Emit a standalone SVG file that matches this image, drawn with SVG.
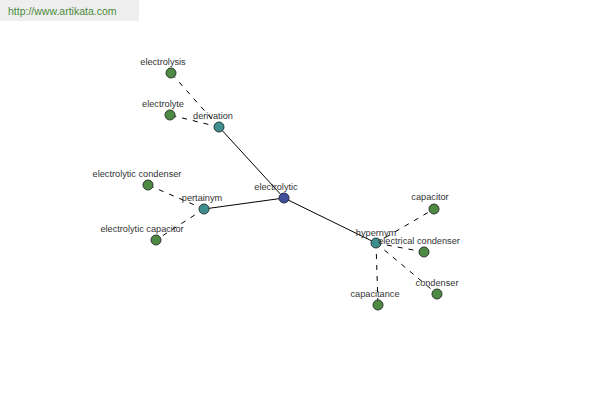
<svg xmlns="http://www.w3.org/2000/svg" width="600" height="400" viewBox="0 0 600 400">
<style>
text{font-family:"Liberation Sans",Arial,sans-serif;font-size:9.2px;fill:#333;text-anchor:middle}
.leaf{fill:#4f8a45;stroke:#2a3a2a;stroke-width:1}
.rel{fill:#3f8f8f;stroke:#2a3a3a;stroke-width:1}
.root{fill:#3f4f9a;stroke:#222a44;stroke-width:1}
.solid{stroke:#000;stroke-width:1;fill:none}
.dash{stroke:#000;stroke-width:1;fill:none;stroke-dasharray:5,6}
</style>
<rect x="0" y="0" width="600" height="400" fill="#fff"/>
<g id="watermark">
<rect x="0" y="0" width="139" height="21" fill="#eeeeee"/>
<text x="8" y="15" style="text-anchor:start;font-size:10.5px;fill:#4a8a3a">http://www.artikata.com</text>
</g>
<g id="connectors">
<line class="solid" x1="284" y1="198" x2="219" y2="127"/>
<line class="solid" x1="284" y1="198" x2="204" y2="209"/>
<line class="solid" x1="284" y1="198" x2="376" y2="243"/>
<line class="dash" x1="219" y1="127" x2="171" y2="73"/>
<line class="dash" x1="219" y1="127" x2="170" y2="115"/>
<line class="dash" x1="204" y1="209" x2="148" y2="185"/>
<line class="dash" x1="204" y1="209" x2="156" y2="240"/>
<line class="dash" x1="376" y1="243" x2="434" y2="209"/>
<line class="dash" x1="376" y1="243" x2="424" y2="252"/>
<line class="dash" x1="376" y1="243" x2="437" y2="294"/>
<line class="dash" x1="376" y1="243" x2="378" y2="305"/>
</g>
<g id="electrolytic"><circle class="root" cx="284" cy="198" r="5"/><text x="276" y="190">electrolytic</text></g>
<g id="derivation"><circle class="rel" cx="219" cy="127" r="5"/><text x="213" y="119">derivation</text></g>
<g id="pertainym"><circle class="rel" cx="204" cy="209" r="5"/><text x="202" y="201">pertainym</text></g>
<g id="hypernym"><circle class="rel" cx="376" cy="243" r="5"/><text x="376" y="236">hypernym</text></g>
<g id="electrolysis"><circle class="leaf" cx="171" cy="73" r="5"/><text x="163" y="65">electrolysis</text></g>
<g id="electrolyte"><circle class="leaf" cx="170" cy="115" r="5"/><text x="163" y="107">electrolyte</text></g>
<g id="electrolytic-condenser"><circle class="leaf" cx="148" cy="185" r="5"/><text x="137" y="177">electrolytic condenser</text></g>
<g id="electrolytic-capacitor"><circle class="leaf" cx="156" cy="240" r="5"/><text x="142" y="232">electrolytic capacitor</text></g>
<g id="capacitor"><circle class="leaf" cx="434" cy="209" r="5"/><text x="430" y="200">capacitor</text></g>
<g id="electrical-condenser"><circle class="leaf" cx="424" cy="252" r="5"/><text x="419" y="244">electrical condenser</text></g>
<g id="condenser"><circle class="leaf" cx="437" cy="294" r="5"/><text x="437" y="286">condenser</text></g>
<g id="capacitance"><circle class="leaf" cx="378" cy="305" r="5"/><text x="375" y="297">capacitance</text></g>
</svg>
